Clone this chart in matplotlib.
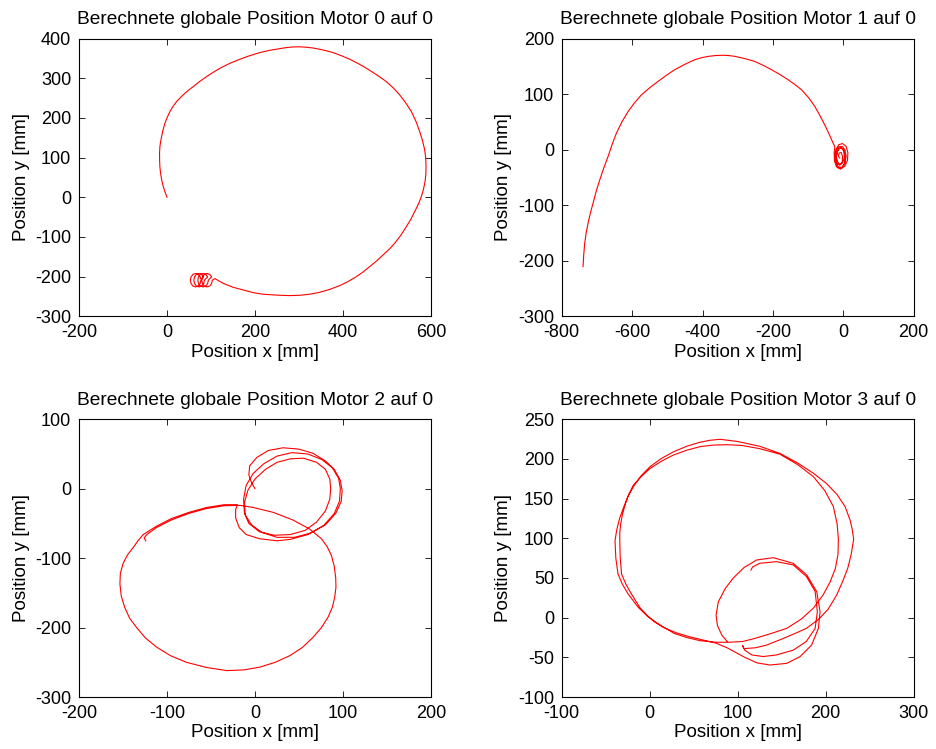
import matplotlib
matplotlib.use("Agg")
import matplotlib.pyplot as plt

plt.rcParams['font.family'] = ['Liberation Sans', 'DejaVu Sans']
plt.rcParams['axes.unicode_minus'] = False

titles = ["Berechnete globale Position Motor 0 auf 0",
          "Berechnete globale Position Motor 1 auf 0",
          "Berechnete globale Position Motor 2 auf 0",
          "Berechnete globale Position Motor 3 auf 0"]
xlabel = "Position x [mm]"
ylabel = "Position y [mm]"

# ---- Motor 0 ----
m0_x = [0, -4.5, -8.5, -12, -14.6, -16.2, -16.8, -17, -16.1, -14.5, -12.3, -9, -4.7, 0.5,
        6.6, 13.5, 21.8, 31, 40.7, 50, 59.6, 74.5, 89.9, 105, 120.2, 142.5, 165.6, 188,
        211, 233.5, 256.4, 271.5, 286.7, 302, 317, 332, 347.2, 362.5, 377.5, 396.5, 415.4,
        434.5, 453.2, 476.3, 498.6, 514.5, 528.9, 542.8, 555.4, 565.8, 574.3, 580.7, 585.7,
        588, 588.7, 588.3, 586.4, 583, 578.1, 571.3, 563, 554.3, 544, 531.6, 517.5, 504.8,
        491, 476.3, 460.8, 446, 430.5, 412, 392.7, 370.3, 347.2, 324.5, 301.8, 279, 256.4,
        218.6, 195.9, 173.2, 150.4, 127.7, 108.8,
        103, 101.4, 97, 91, 85, 80.6, 79, 80.6, 85, 91, 97, 101.4,
        94, 92.4, 88, 82, 76, 71.6, 70, 71.6, 76, 82, 88, 92.4,
        85, 83.4, 79, 73, 67, 62.6, 61, 62.6, 67, 73, 79, 83.4,
        77, 75.4, 71, 65, 59, 54.6, 53, 54.6, 59, 65, 71, 75.4, 76]
m0_y = [0, 13.5, 26.9, 43.5, 60.5, 77, 94.1, 111, 127.7, 140.5, 152.9, 170, 186.6, 201.5,
        216, 229, 241.2, 252, 262.2, 271, 279, 292, 304.2, 315, 325.2, 337.5, 347.9, 357,
        364.7, 370.5, 374.8, 377.5, 379, 379.3, 378.2, 376.2, 373.1, 369.3, 364.7, 356.8, 347.9,
        337.2, 325.2, 309, 291.6, 275.5, 258, 237.8, 216, 191.5, 165.6, 142.8, 119.3,
        98.5, 77.3, 58.5, 39.5, 20.8, 1.7, -17.5, -36.1, -55.3, -73.9, -95.5, -116, -131.2,
        -145.4, -160.6, -174.8, -188, -200, -212, -222.7, -232, -239.5, -244.3, -247, -247.8, -247,
        -244.5, -240.3, -233.6, -226.9, -216.8, -205,
        -209, -217.5, -223.7, -226, -223.7, -217.5, -209, -200.5, -194.3, -192, -194.3, -200.5,
        -209, -217.5, -223.7, -226, -223.7, -217.5, -209, -200.5, -194.3, -192, -194.3, -200.5,
        -209, -217.5, -223.7, -226, -223.7, -217.5, -209, -200.5, -194.3, -192, -194.3, -200.5,
        -209, -217.5, -223.7, -226, -223.7, -217.5, -209, -200.5, -194.3, -192, -194.3, -200.5, -205]

# ---- Motor 1 ----
m1_x = [-739.4, -737.5, -734.7, -730.5, -725.2, -718.5, -711, -702, -692, -680.5, -668.4,
        -657, -644.7, -629, -611.5, -593, -573.7, -550, -526, -502.5, -479, -450.5, -422,
        -403, -384, -363, -342, -325, -308, -280, -252, -228, -204, -180.5, -157, -138,
        -119, -99, -81, -67, -53, -41, -29, -24,
        -26, -25, -19, -8, 4, 12, 13, 8, -2, -13, -21,
        -24, -22, -14, -4, 5, 8, 5, -3, -13, -20,
        -21, -18, -10, -2, 3, 2, -5, -13, -18,
        -21, -16, -6, 3, 5, 1, -8, -16, -20,
        -16, -10, -3, -2, -6, -12, -14, -10]
m1_y = [-210.5, -190, -168.5, -150, -132.5, -114, -96.5, -75, -54.5, -33, -12.5,
        9, 29.5, 50, 68.6, 84.5, 98.6, 111.5, 123, 134, 144, 153.5, 162,
        165.5, 168, 169.5, 170, 169.5, 168, 164, 159, 152, 144, 135.5, 126, 117.5,
        108, 94, 78, 62, 45, 29, 12, 5,
        -5, -20, -31, -35, -30, -19, -5, 6, 11, 9, 0,
        -10, -24, -31, -32, -24, -12, -1, 6, 5, -3,
        -14, -25, -28, -24, -14, -3, 3, 2, -6,
        -20, -32, -34, -26, -12, 0, 4, -2, -12,
        -22, -27, -22, -12, -5, -6, -12, -15]

# ---- Motor 2 ----
m2_x = [0, -4, -7, -6, 2, 15, 32, 50, 66, 80, 90, 97, 99, 98, 92, 80, 63, 45, 25, 8,
        -4, -11, -12, -8, 0, 12, 25, 40, 55, 70, 80, 85, 86, 85, 80, 70, 57, 40, 22, 5,
        -7, -12, -13, -10, -2, 10, 25, 42, 60, 76, 88, 95, 97, 96, 90, 78, 60, 40, 25, 5,
        -10, -18, -22, -22, -20,
        -35, -55, -75, -95, -112, -127, -133, -138, -145, -150, -153, -153.5, -152, -148,
        -142.5, -134.5, -124.5, -112, -96, -78, -55, -32, -13, 5.5, 23, 39.5, 54, 66, 75.5,
        83, 88, 90.6, 92, 91.7, 90, 86.8, 82, 75.5, 62, 43, 20.6, -2, -17,
        -35, -55, -75, -95, -112, -123, -126, -124]
m2_y = [0, 9, 20, 33, 45, 55, 59, 57, 51, 40, 28, 12, -3, -18, -35, -52, -64, -70, -70, -63,
        -52, -38, -20, -2, 14, 28, 38, 43, 44, 38, 28, 14, 0, -15, -32, -48, -60, -66, -67, -62,
        -50, -35, -15, 5, 22, 36, 47, 52, 50, 42, 30, 15, 0, -18, -36, -53, -66, -73, -75, -72,
        -66, -56, -42, -30, -23,
        -23, -27, -34, -43, -54, -66, -75, -84, -95.5, -108, -122, -137, -154.5, -171,
        -186.5, -200, -215, -228, -240.5, -250, -257.5, -262, -261, -257, -250, -240.5, -228.5, -214, -200,
        -185, -170.5, -156, -142, -128, -111.5, -96, -83.5, -72, -58, -45, -34, -27, -24,
        -24.5, -28.5, -35.5, -45, -56, -66, -71, -75]

# ---- Motor 3 ----
m3_x = [115, 117, 125, 144, 163, 178, 188, 190.5, 188, 178, 163, 144, 129, 116, 108, 105.5,
        107, 120, 133, 150, 165, 178, 192, 203, 212.5, 219, 225, 229, 231.8, 230, 227.7,
        222, 213, 201, 186, 168, 148, 125, 100, 80, 68, 57, 42, 27, 13, 0.4, -10, -18.6,
        -25, -30, -34.5, -37.5, -39.4, -38.5, -36, -31, -24.6, -13, -2,
        10, 28, 42, 57, 75, 90, 106, 120, 135, 155.7, 172, 186, 197, 205, 211, 214, 214.4,
        213, 208.7, 199, 186, 168, 148, 125, 105, 87.5, 72, 57, 42, 27, 13, 0.4, -9.5, -18.6,
        -24, -28, -31, -33, -34, -34, -33.5, -32, -27, -20.8, -11.4, -3,
        5, 15, 30, 45, 60, 75, 88, 98, 108, 122, 136.7, 155.7, 171, 184, 191.7, 193.6,
        189.8, 178.4, 163, 140.5, 121.6, 107, 95, 86, 78, 75.4, 77, 82, 88]
m3_y = [60, 64, 68.5, 70.6, 66.5, 52, 33, 7.5, -13.5, -30, -41, -47, -49, -47, -41, -35,
        -39, -38, -34.5, -27, -20, -13.5, -2, 11, 28.6, 45, 62, 80, 99, 112, 123,
        140, 155, 169, 182, 195, 207, 216, 222, 224.8, 223.5, 221, 216, 209, 200.5, 190.3, 178.5, 165,
        152, 138, 124, 110.5, 97, 75, 55, 42, 30, 13, 1.2,
        -8, -20, -25, -29, -31, -31, -30, -26, -21, -13.5, -2, 12, 28.6, 45, 62, 80, 99,
        118, 140, 160, 177.7, 193, 206, 213, 217, 218, 217.5, 215.5, 211, 205, 197, 188, 178, 167,
        155, 142, 130, 118, 107, 97, 76, 55, 42, 30, 13, 3,
        -5, -12, -19, -24, -28, -32, -38, -44, -50, -57, -59.7, -57.6, -49, -34.5, -13.5, 7.5,
        32.8, 54, 68.5, 75.6, 72.7, 63, 50, 37, 20, 3, -10, -22, -30]

xs = [m0_x, m1_x, m2_x, m3_x]
ys = [m0_y, m1_y, m2_y, m3_y]
xlims = [(-200, 600), (-800, 200), (-200, 200), (-100, 300)]
ylims = [(-300, 400), (-300, 200), (-300, 100), (-100, 250)]
xticks = [[-200, 0, 200, 400, 600], [-800, -600, -400, -200, 0, 200],
          [-200, -100, 0, 100, 200], [-100, 0, 100, 200, 300]]
yticks = [[-300, -200, -100, 0, 100, 200, 300, 400], [-300, -200, -100, 0, 100, 200],
          [-300, -200, -100, 0, 100], [-100, -50, 0, 50, 100, 150, 200, 250]]

W, H = 936, 749
fig = plt.figure(figsize=(W / 100, H / 100), dpi=100)
lefts = [79, 561.7]
bottoms = [H - 316.3, H - 697]
aw, ah = 352, 277.7
positions = [(lefts[0], bottoms[0]), (lefts[1], bottoms[0]),
             (lefts[0], bottoms[1]), (lefts[1], bottoms[1])]

for i in range(4):
    l, b = positions[i]
    ax = fig.add_axes([l / W, b / H, aw / W, ah / H])
    ax.plot(xs[i], ys[i], color='#ff0000', lw=0.8)
    ax.set_xlim(*xlims[i])
    ax.set_ylim(*ylims[i])
    ax.set_xticks(xticks[i])
    ax.set_yticks(yticks[i])
    ax.set_title(titles[i], fontsize=13.8, pad=10.5)
    ax.set_xlabel(xlabel, fontsize=13.5, labelpad=2)
    ax.set_ylabel(ylabel, fontsize=13.5, labelpad=4)
    ax.tick_params(direction='in', top=True, right=True, length=4, width=0.6,
                   labelsize=13, pad=5.5)
    for s in ax.spines.values():
        s.set_linewidth(0.8)

fig.savefig("out.png", dpi=100)
